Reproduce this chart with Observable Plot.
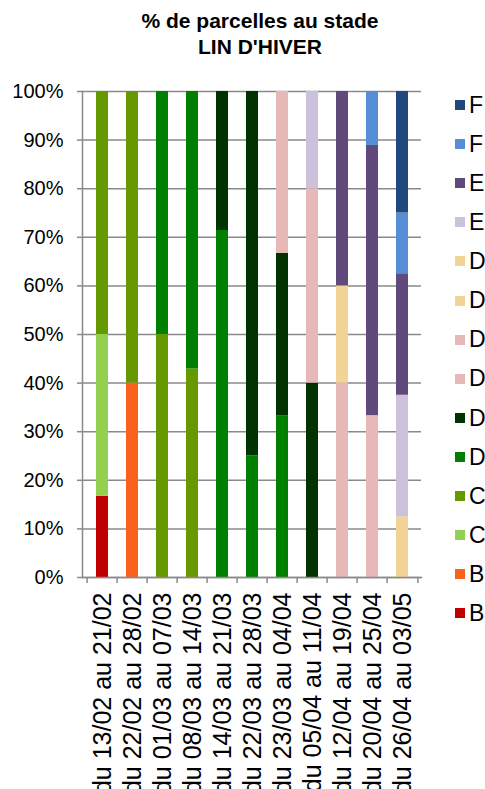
<!DOCTYPE html>
<html>
<head>
<meta charset="utf-8">
<script src="https://cdn.jsdelivr.net/npm/d3@7"></script>
<script src="https://cdn.jsdelivr.net/npm/@observablehq/plot@0.6"></script>
<style>
  html, body { margin: 0; padding: 0; background: #fff; overflow: hidden; width: 485px; height: 789px; }
  body { font-family: "Liberation Sans", Arial, sans-serif; position: relative; }
  #title { position: absolute; left: 40px; width: 440px; top: 8px; text-align: center; font-weight: bold; font-size: 21px; line-height: 26px; color: #000; }
  #chart { position: absolute; left: 0; top: 70px; }
  .lg { position: absolute; font-size: 23px; line-height: 23px; color: #000; white-space: nowrap; }
  .sw { position: absolute; width: 10px; height: 10px; }
</style>
</head>
<body>
<div id="title">% de parcelles au stade<br>LIN D'HIVER</div>
<div id="chart"></div>
<div id="legend"></div>
<script>
// Categories (weeks)
const weeks = ["du 13/02 au 21/02", "du 22/02 au 28/02", "du 01/03 au 07/03", "du 08/03 au 14/03",
  "du 14/03 au 21/03", "du 22/03 au 28/03", "du 23/03 au 04/04", "du 05/04 au 11/04",
  "du 12/04 au 19/04", "du 20/04 au 25/04", "du 26/04 au 03/05"];

// Series, from bottom of the stack to the top
const seriesIds    = ["B1", "B2", "C1", "C2", "D1", "D2", "D3", "D4", "D5", "D6", "E1", "E2", "F1", "F2"];
const seriesLabels = ["B",  "B",  "C",  "C",  "D",  "D",  "D",  "D",  "D",  "D",  "E",  "E",  "F",  "F"];
const seriesColors = ["#C00000", "#F9621C", "#92D050", "#669900", "#008000", "#003300",
  "#E6B9B8", "#E6B9B8", "#F2D496", "#F2D496", "#CCC1DA", "#604A7B", "#558ED5", "#1F497D"];

// Values (% of parcels) per series, one value per week
const B1 = [16.7, 0, 0, 0, 0, 0, 0, 0, 0, 0, 0];
const B2 = [0, 40, 0, 0, 0, 0, 0, 0, 0, 0, 0];
const C1 = [33.3, 0, 0, 0, 0, 0, 0, 0, 0, 0, 0];
const C2 = [50, 60, 50, 42.9, 0, 0, 0, 0, 0, 0, 0];
const D1 = [0, 0, 50, 57.1, 71.4, 25, 33.3, 0, 0, 0, 0];
const D2 = [0, 0, 0, 0, 28.6, 75, 33.4, 40, 0, 0, 0];
const D3 = [0, 0, 0, 0, 0, 0, 33.3, 40, 40, 33.3, 0];
const D4 = [0, 0, 0, 0, 0, 0, 0, 0, 0, 0, 0];
const D5 = [0, 0, 0, 0, 0, 0, 0, 0, 20, 0, 12.5];
const D6 = [0, 0, 0, 0, 0, 0, 0, 0, 0, 0, 0];
const E1 = [0, 0, 0, 0, 0, 0, 0, 20, 0, 0, 25];
const E2 = [0, 0, 0, 0, 0, 0, 0, 0, 40, 55.6, 25];
const F1 = [0, 0, 0, 0, 0, 0, 0, 0, 0, 11.1, 12.5];
const F2 = [0, 0, 0, 0, 0, 0, 0, 0, 0, 0, 25];

const yTicks = [0, 10, 20, 30, 40, 50, 60, 70, 80, 90, 100];

const seriesValues = {B1, B2, C1, C2, D1, D2, D3, D4, D5, D6, E1, E2, F1, F2};
const data = [];
seriesIds.forEach(id => {
  seriesValues[id].forEach((v, i) => {
    if (v > 0) data.push({week: weeks[i], series: id, value: v / 100});
  });
});

const W = 485, ML = 82, MR = 64;
const step = (W - ML - MR) / weeks.length;
const grey = "#8a8a8a";

const chart = Plot.plot({
  width: W,
  height: 740,
  marginLeft: ML,
  marginRight: MR,
  marginTop: 21,
  marginBottom: 233,
  style: {fontFamily: "'Liberation Sans', Arial, sans-serif", color: "#000", background: "transparent", overflow: "visible"},
  x: {domain: weeks, padding: 0},
  y: {domain: [0, 1]},
  color: {domain: seriesIds, range: seriesColors},
  marks: [
    Plot.gridY(yTicks.map(t => t / 100), {stroke: grey, strokeOpacity: 1, strokeWidth: 1.5}),
    Plot.barY(data, Plot.stackY({x: "week", y: "value", z: "series", fill: "series", order: seriesIds, insetLeft: 9, insetRight: 9})),
    Plot.axisY(yTicks.map(t => t / 100), {tickFormat: d3.format(".0%"), tickSize: 5, tickPadding: 14, fontSize: 20, stroke: grey, strokeWidth: 1.5, label: null}),
    Plot.axisX({tickSize: 6, dx: -step / 2, text: null, stroke: grey, strokeWidth: 1.5, label: null}),
    Plot.axisX([weeks[weeks.length - 1]], {tickSize: 6, dx: step / 2, text: null, stroke: grey, strokeWidth: 1.5, label: null}),
    Plot.axisX({tickSize: 0, tickPadding: 15, tickRotate: -90, fontSize: 25, label: null}),
    Plot.frame({anchor: "left", stroke: grey, strokeWidth: 1.5}),
    Plot.frame({anchor: "bottom", stroke: grey, strokeWidth: 1.5})
  ]
});
document.getElementById("chart").appendChild(chart);

// Legend (top to bottom = top of stack first)
const legend = document.getElementById("legend");
const order = seriesIds.map((_, i) => i).reverse();
order.forEach((idx, k) => {
  const cy = 105 + k * 39.1;
  const sw = document.createElement("div");
  sw.className = "sw";
  sw.style.left = "455px";
  sw.style.top = (cy - 5) + "px";
  sw.style.background = seriesColors[idx];
  legend.appendChild(sw);
  const t = document.createElement("div");
  t.className = "lg";
  t.style.left = "469px";
  t.style.top = (cy - 11.3) + "px";
  t.textContent = seriesLabels[idx];
  legend.appendChild(t);
});
</script>
</body>
</html>
